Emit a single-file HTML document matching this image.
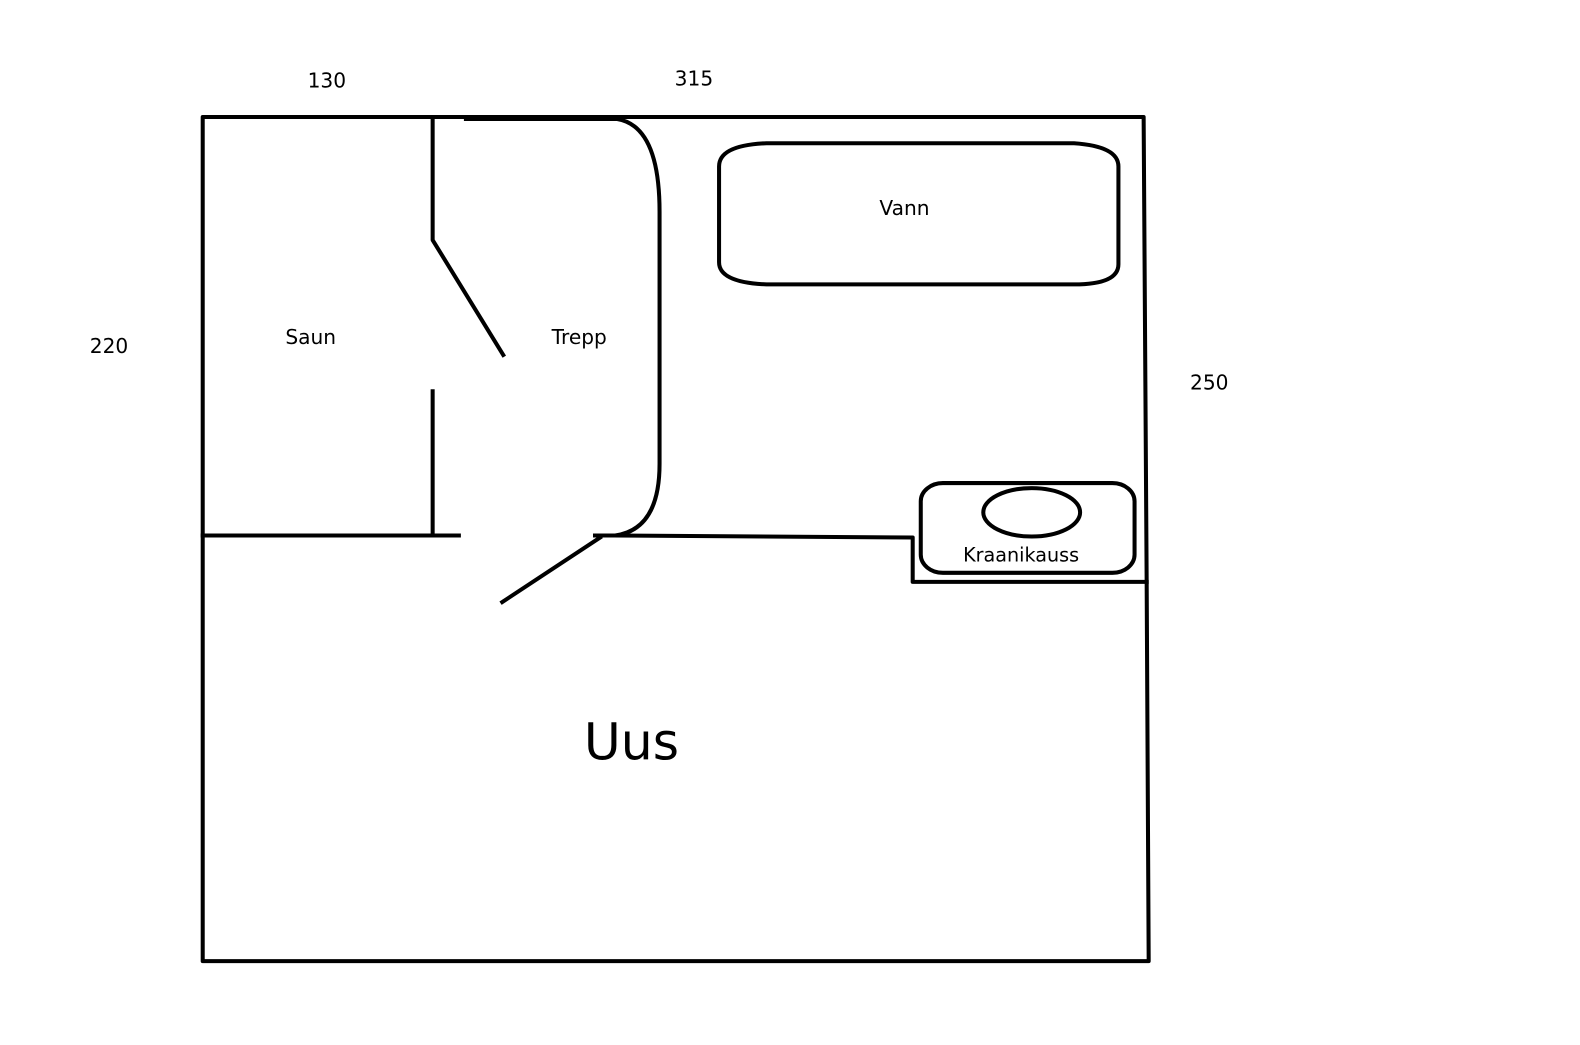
<!DOCTYPE html>
<html><head><style>
html,body{margin:0;padding:0;background:#fff;width:1580px;height:1045px;overflow:hidden}
text{font-family:"DejaVu Sans","Liberation Sans",sans-serif;fill:#000}
</style></head><body>
<svg width="1580" height="1045" viewBox="0 0 1580 1045" xmlns="http://www.w3.org/2000/svg">
<g transform="scale(1.0085)">
<g fill="none" stroke="#000" stroke-width="4" stroke-linecap="square" stroke-linejoin="round">
<path d="M201,116 L1134,116 L1137,577 L1139,953 L201,953 Z"/>
<path d="M429,116 L429,238 L499,352"/>
<path d="M429,388 L429,531"/>
<path d="M201,531 L455,531"/>
<path d="M462,118 L612,118 Q654,125 654,210 L654,460 Q654,525 610,531 L590,531"/>
<path d="M610,531 L905,533 L905,577 L1137,577"/>
<path d="M595,533 L498,597"/>
<path d="M760,142 L1065,142 Q1109,145 1109,165 L1109,262 Q1109,282 1065,282 L760,282 Q713,280 713,260 L713,165 Q713,144 760,142 Z"/>
<rect x="913" y="479" width="212" height="89" rx="22" ry="18"/>
<ellipse cx="1023" cy="508" rx="48" ry="24"/>
</g>
<text x="305" y="87" font-size="20">130</text>
<text x="669" y="85" font-size="20">315</text>
<text x="89" y="350" font-size="20">220</text>
<text x="1180" y="386" font-size="20">250</text>
<text x="283" y="341" font-size="20">Saun</text>
<text x="547" y="341" font-size="20">Trepp</text>
<text x="872" y="213" font-size="20">Vann</text>
<text x="955" y="557" font-size="19">Kraanikauss</text>
<text x="579" y="753" font-size="50">Uus</text>
</g>
</svg>
</body></html>
